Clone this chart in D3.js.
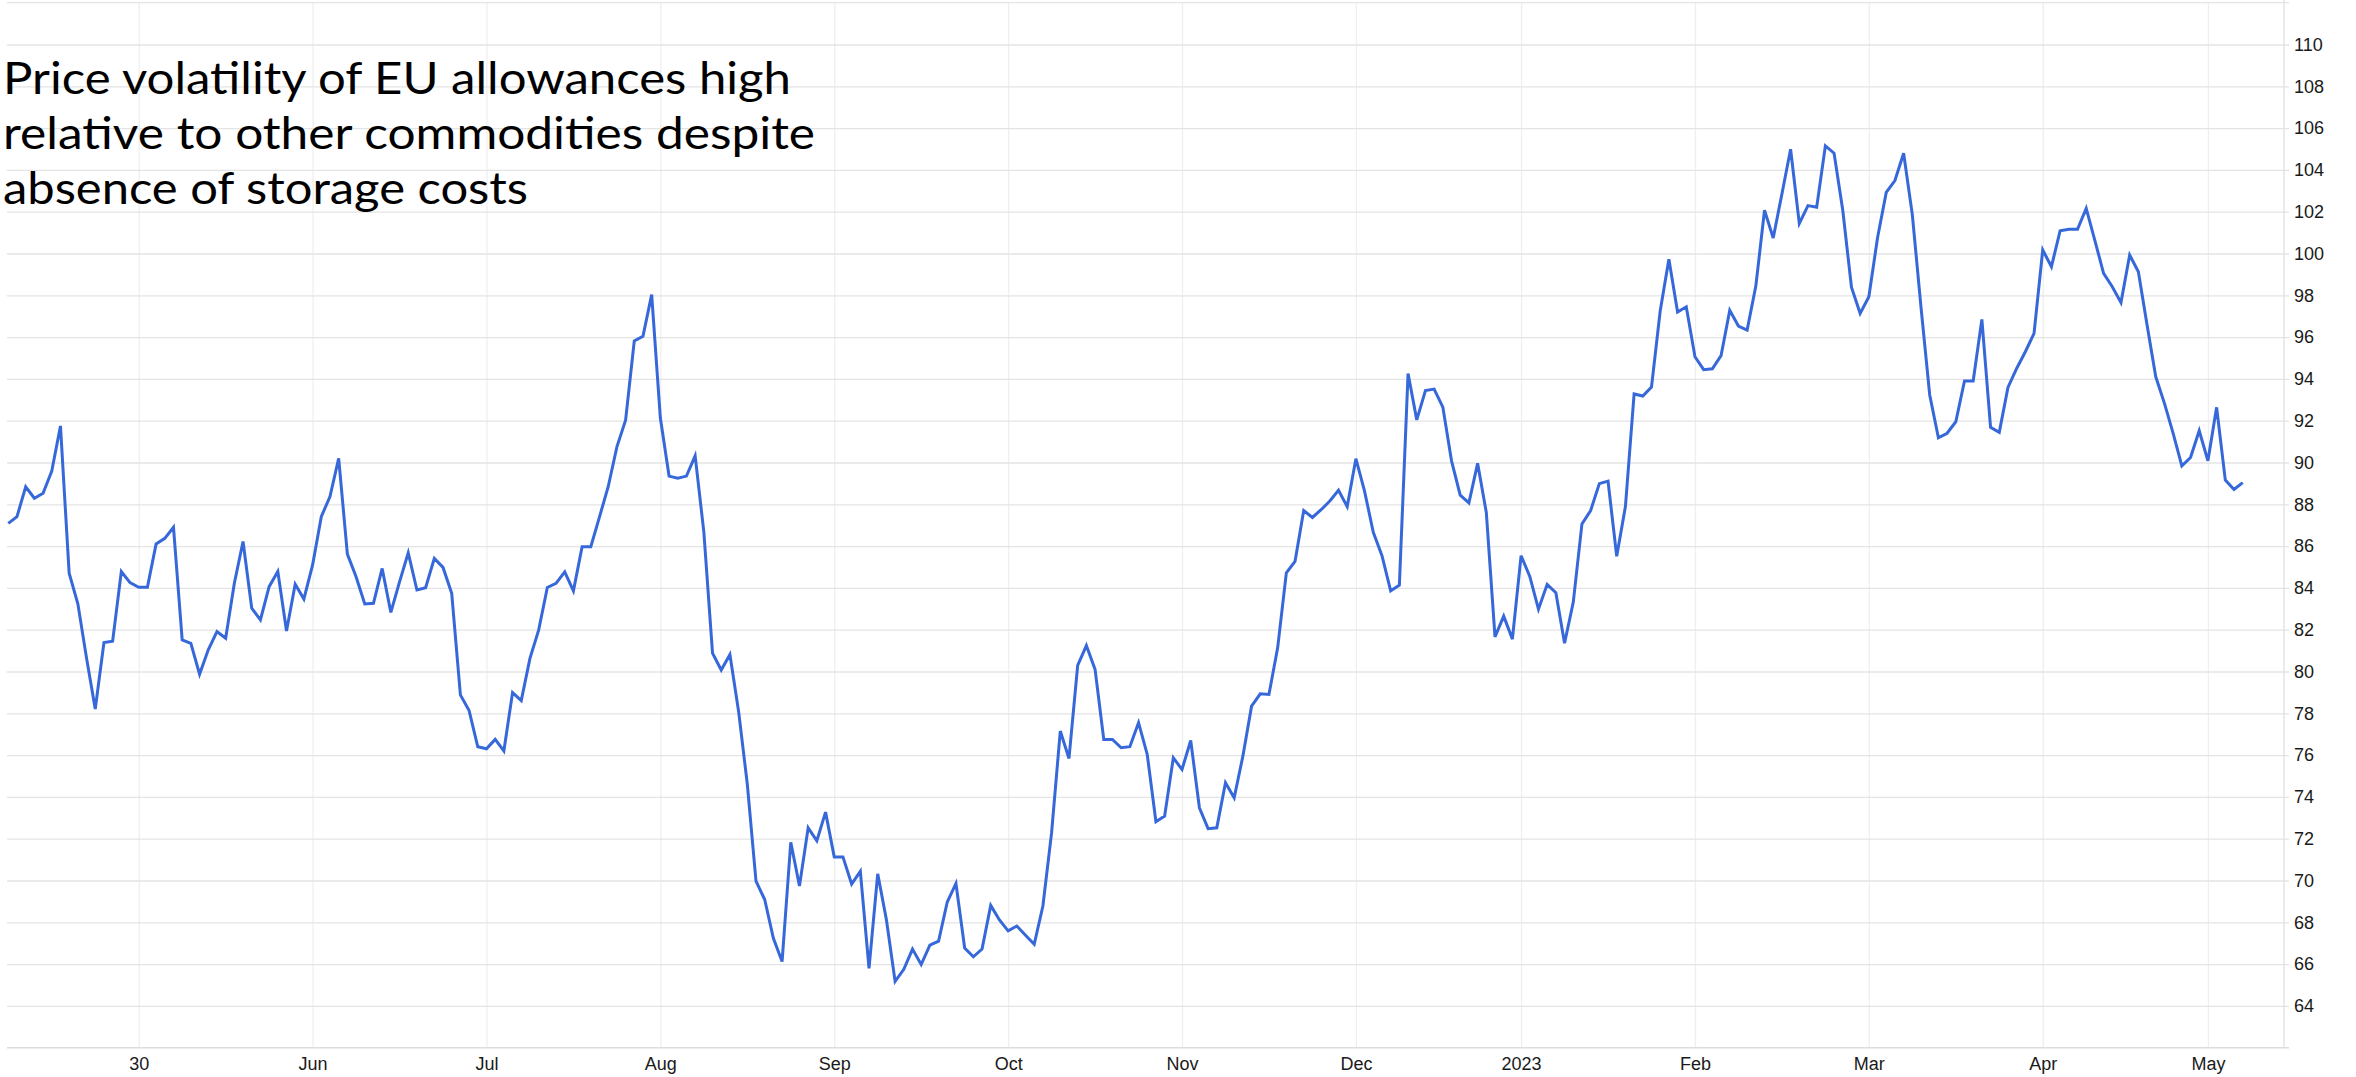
<!DOCTYPE html>
<html>
<head>
<meta charset="utf-8">
<script src="https://cdn.jsdelivr.net/npm/d3@7"></script>
<style>
  html, body { margin: 0; padding: 0; background: #ffffff; }
  svg { display: block; }
</style>
</head>
<body>
<svg id="chart" width="2356" height="1077"></svg>
<script>
// ---- Data ----
const prices = [
  87.09, 87.41, 88.84, 88.29, 88.53, 89.59, 91.75, 84.70, 83.24, 80.64,
  78.20, 81.39, 81.45, 84.78, 84.25, 84.03, 84.03, 86.10, 86.37, 86.90,
  81.51, 81.35, 79.87, 81.04, 81.91, 81.59, 84.22, 86.22, 83.03, 82.47,
  84.06, 84.78, 81.94, 84.18, 83.47, 85.10, 87.41, 88.37, 90.20, 85.62,
  84.53, 83.23, 83.26, 84.93, 82.83, 84.29, 85.68, 83.90, 84.01, 85.41,
  84.98, 83.74, 78.88, 78.13, 76.40, 76.30, 76.75, 76.20, 78.99, 78.61,
  80.63, 81.98, 84.02, 84.22, 84.77, 83.86, 85.97, 85.97, 87.40, 88.84,
  90.75, 92.02, 95.82, 96.04, 98.03, 92.13, 89.35, 89.25, 89.35, 90.32,
  86.68, 80.88, 80.07, 80.81, 78.09, 74.61, 69.97, 69.09, 67.23, 66.12,
  71.83, 69.74, 72.52, 71.90, 73.27, 71.13, 71.13, 69.83, 70.44, 65.80,
  70.32, 68.12, 65.17, 65.75, 66.72, 65.98, 66.91, 67.10, 68.97, 69.86,
  66.77, 66.35, 66.72, 68.81, 68.11, 67.59, 67.82, 67.38, 66.95, 68.78,
  72.29, 77.15, 75.84, 80.29, 81.24, 80.10, 76.75, 76.75, 76.35, 76.40,
  77.55, 76.03, 72.81, 73.08, 75.87, 75.31, 76.70, 73.48, 72.48, 72.52,
  74.68, 73.96, 75.95, 78.34, 78.93, 78.90, 81.13, 84.72, 85.27, 87.70,
  87.37, 87.74, 88.16, 88.67, 87.89, 90.18, 88.62, 86.66, 85.54, 83.86,
  84.13, 94.26, 92.04, 93.44, 93.51, 92.65, 90.08, 88.44, 88.07, 89.96,
  87.61, 81.66, 82.65, 81.55, 85.54, 84.55, 82.98, 84.17, 83.77, 81.35,
  83.31, 87.06, 87.70, 88.99, 89.11, 85.51, 87.89, 93.28, 93.18, 93.61,
  97.25, 99.73, 97.20, 97.45, 95.06, 94.44, 94.48, 95.11, 97.28, 96.53,
  96.34, 98.44, 102.07, 100.74, 102.85, 104.99, 101.44, 102.29, 102.21, 105.15,
  104.80, 102.07, 98.39, 97.13, 97.93, 100.75, 102.92, 103.49, 104.80, 101.86,
  97.42, 93.23, 91.18, 91.40, 91.95, 93.90, 93.90, 96.85, 91.68, 91.44,
  93.59, 94.50, 95.30, 96.18, 100.17, 99.37, 101.09, 101.16, 101.16, 102.16,
  100.62, 99.05, 98.41, 97.65, 99.93, 99.13, 96.58, 94.10, 92.83, 91.39,
  89.84, 90.24, 91.52, 90.08, 92.64, 89.16, 88.71, 89.04
];
const xTickIndex  = [15, 35, 55, 75, 95, 115, 135, 155, 174, 194, 214, 234, 253];
const xTickLabels = ["30", "Jun", "Jul", "Aug", "Sep", "Oct", "Nov", "Dec", "2023", "Feb", "Mar", "Apr", "May"];
const yTickValues = d3.range(64, 111, 2);
const titleLines  = [
  "Price volatility of EU allowances high",
  "relative to other commodities despite",
  "absence of storage costs"
];

// ---- Layout ----
const W = 2356, H = 1077;
const plotLeft = 7, plotRight = 2284, plotTop = 2.7, plotBottom = 1047.7;

const svg = d3.select("#chart");
svg.append("rect").attr("width", W).attr("height", H).attr("fill", "#ffffff");

const x = d3.scaleLinear().domain([0, prices.length - 1]).range([8.3, 2242.7]);
const y = d3.scaleLinear().domain([62, 112]).range([plotBottom, plotTop]);

// vertical grid + x labels
const xAxis = d3.axisBottom(x)
  .tickValues(xTickIndex)
  .tickFormat((d, i) => xTickLabels[i])
  .tickSize(-(plotBottom - plotTop))
  .tickPadding(10);
const gx = svg.append("g").attr("transform", `translate(0,${plotBottom})`).call(xAxis);
gx.select(".domain").remove();
gx.selectAll(".tick line").attr("stroke", "#efefef").attr("stroke-width", 1.3);
gx.selectAll(".tick text")
  .attr("fill", "#1a1a1a")
  .style("font-family", "'Liberation Sans', Arial, sans-serif")
  .style("font-size", "18px");

// horizontal grid + y labels
const yAxis = d3.axisRight(y)
  .tickValues(yTickValues)
  .tickFormat(d3.format("d"))
  .tickSize(-(plotRight + 5 - plotLeft))
  .tickPadding(5);
const gy = svg.append("g").attr("transform", `translate(${plotRight + 5},0)`).call(yAxis);
gy.select(".domain").remove();
gy.selectAll(".tick line").attr("stroke", "#e4e4e4").attr("stroke-width", 1.3);
gy.selectAll(".tick text")
  .attr("fill", "#1a1a1a")
  .style("font-family", "'Liberation Sans', Arial, sans-serif")
  .style("font-size", "18px");

// frame lines (top gridline, bottom axis line, right axis line)
svg.append("line").attr("x1", plotLeft).attr("x2", plotRight + 5)
  .attr("y1", y(112)).attr("y2", y(112)).attr("stroke", "#e4e4e4").attr("stroke-width", 1.3);
svg.append("line").attr("x1", plotLeft).attr("x2", plotRight + 5)
  .attr("y1", y(62)).attr("y2", y(62)).attr("stroke", "#dcdcdc").attr("stroke-width", 1.6);
svg.append("line").attr("x1", plotRight).attr("x2", plotRight)
  .attr("y1", 0).attr("y2", y(62)).attr("stroke", "#e0e0e0").attr("stroke-width", 1.3);

// price line
const line = d3.line().x((d, i) => x(i)).y(d => y(d));
svg.append("path")
  .datum(prices)
  .attr("d", line)
  .attr("fill", "none")
  .attr("stroke", "#3668da")
  .attr("stroke-width", 3)
  .attr("stroke-linejoin", "miter")
  .attr("stroke-miterlimit", 4);

// title
const titleWidths = [788, 812, 525];
const titleBase = [94, 149, 204];
const gt = svg.append("g");
titleLines.forEach((t, i) => {
  gt.append("text")
    .attr("x", 3)
    .attr("y", titleBase[i])
    .attr("textLength", titleWidths[i])
    .attr("lengthAdjust", "spacingAndGlyphs")
    .attr("fill", "#000000")
    .style("font-family", "Lato, 'Open Sans', sans-serif")
    .style("font-size", "45px")
    .text(t);
});
</script>
</body>
</html>
